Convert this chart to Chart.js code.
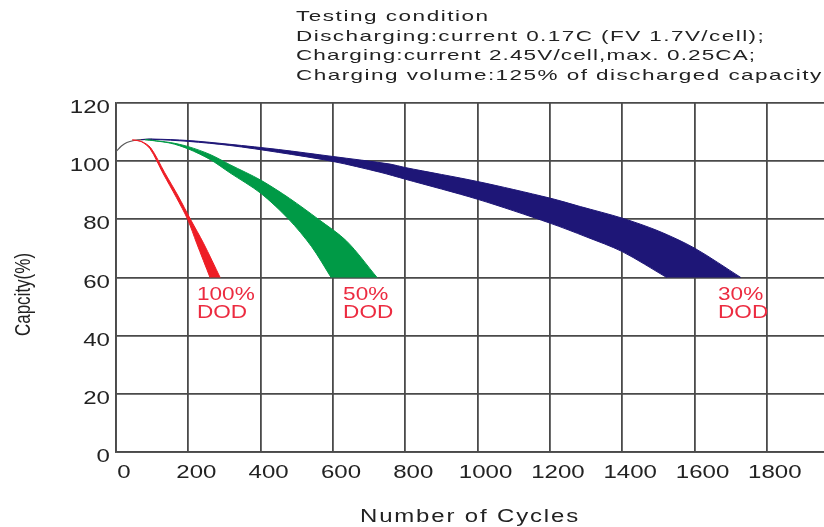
<!DOCTYPE html>
<html>
<head>
<meta charset="utf-8">
<script src="https://cdn.jsdelivr.net/npm/chart.js@4.4.1/dist/chart.umd.min.js"></script>
<style>
  html, body { margin: 0; padding: 0; background: #ffffff; overflow: hidden; }
  #wrap { width: 824px; height: 527px; position: relative; }
</style>
</head>
<body>
<div id="wrap"><canvas id="c" width="824" height="527"></canvas></div>
<script>
// ---------------- DATA ----------------
const xTickValues = [0, 200, 400, 600, 800, 1000, 1200, 1400, 1600, 1800];
const yTickValues = [0, 20, 40, 60, 80, 100, 120];

const conditionLines = [
  'Testing condition',
  'Discharging:current 0.17C (FV 1.7V/cell);',
  'Charging:current 2.45V/cell,max. 0.25CA;',
  'Charging volume:125% of discharged capacity'
];
const xAxisTitle = 'Number of Cycles';
const yAxisTitle = 'Capcity(%)';
const dodLabels = [['100%', 'DOD'], ['50%', 'DOD'], ['30%', 'DOD']];

// initial (common) part of the curves
const initialCycles   = [0, 15, 30, 50, 70, 100];
const initialCapacity = [103.3, 105.2, 106.4, 107.1, 107.4, 107.5];

// 100% DOD band (left/lower edge and right/upper edge)
const dod100LowerCycles   = [45, 70, 94, 131, 167, 198, 223, 260];
const dod100LowerCapacity = [107.3, 106.7, 104.3, 95.6, 87.5, 80, 71.8, 60];
const dod100UpperCycles   = [45, 70, 96, 134, 172, 206, 242, 288];
const dod100UpperCapacity = [107.3, 106.8, 104.6, 96.2, 88, 80, 71.8, 60];

// 50% DOD band
const dod50LowerCycles   = [80, 150, 200, 260, 315, 400, 478, 541, 595];
const dod50LowerCapacity = [107.4, 106.2, 104.2, 100.6, 96, 89, 80, 70.6, 60];
const dod50UpperCycles   = [80, 150, 200, 260, 315, 400, 480, 560, 638, 722];
const dod50UpperCapacity = [107.4, 106.4, 105, 102.3, 98.8, 93.5, 87.2, 80, 72.5, 60];

// 30% DOD band
const dod30LowerCycles   = [70, 100, 200, 315, 450, 600, 730, 800, 1000, 1200, 1300, 1400, 1523];
const dod30LowerCapacity = [107.4, 107.5, 106.8, 105.4, 103, 99.9, 96.2, 93.8, 86.9, 78.7, 74, 68.9, 60];
const dod30UpperCycles   = [70, 100, 200, 315, 450, 600, 758, 800, 1000, 1200, 1284, 1400, 1500, 1600, 1728];
const dod30UpperCapacity = [107.4, 107.6, 107.1, 105.8, 104, 101.6, 99, 97.8, 93, 87.3, 84.4, 80.4, 76, 70.1, 60];

// label anchors (in data units)
const dodLabelCycles = [224, 628, 1665];
const dodLabelCapacity = [54.0, 47.7];

// ---------------- STYLE ----------------
const FONT = '"Liberation Sans", Arial, Helvetica, sans-serif';
const RED = '#ee1d25';
const GREEN = '#009a46';
const BLUE = '#1e1677';
const GREY = '#5a5a5a';
const LABEL_RED = '#ec2b40';
const GRID = '#4a4a4a';
const TEXT = '#222222';

const condStyle = { x: 296, y: [16.7, 36.7, 55.5, 75.5], widths: [192, 468, 459, 525], size: 15, stretch: 1.5 };

function pts(xs, ys) { return xs.map((x, i) => ({ x: x, y: ys[i] })); }

// outline of a band: right edge from its end back up to the start,
// then the left edge down to its end (the fill closes the flat bottom)
function bandOutline(lx, ly, ux, uy) {
  const out = [];
  for (let i = ux.length - 1; i >= 0; i--) out.push({ x: ux[i], y: uy[i] });
  for (let i = 1; i < lx.length; i++) out.push({ x: lx[i], y: ly[i] });
  return out;
}

function band(label, lx, ly, ux, uy, color) {
  return {
    label: label,
    data: bandOutline(lx, ly, ux, uy),
    borderColor: color,
    backgroundColor: color,
    borderWidth: 1,
    pointRadius: 0,
    pointHoverRadius: 0,
    tension: 0.3,
    fill: 'shape'
  };
}

function drawFitted(ctx, text, x, y, width, stretch) {
  ctx.save();
  ctx.letterSpacing = '0px';
  const w0 = ctx.measureText(text).width;
  const n = Math.max(1, text.length - 1);
  const ls = Math.max(0, (width / stretch - w0) / n);
  ctx.translate(x, y);
  ctx.scale(stretch, 1);
  ctx.letterSpacing = ls.toFixed(2) + 'px';
  ctx.fillText(text, 0, 0);
  ctx.restore();
}

// draw a scale's texts with a horizontal (sx) / vertical (sy) glyph stretch
function patchStretch(scale, method, sx, sy, spacing, dy) {
  const key = '__patched_' + method;
  if (scale[key]) return;
  const orig = scale[method];
  scale[method] = function () {
    const c = this.ctx;
    const prevLS = c.letterSpacing;
    c.letterSpacing = spacing || '0px';
    c.fillText = function (t, x, y, mw) {
      this.save();
      this.scale(sx, sy);
      CanvasRenderingContext2D.prototype.fillText.call(this, t, x / sx, y / sy);
      this.restore();
    };
    c.save();
    if (dy) c.translate(0, dy);
    const r = orig.apply(this, arguments);
    c.restore();
    delete c.fillText;
    c.letterSpacing = prevLS;
    return r;
  };
  scale[key] = true;
}

const textPlugin = {
  id: 'textPlugin',
  beforeDraw(chart) {
    patchStretch(chart.scales.x, 'drawLabels', 1.3, 1, '0px', 0);
    patchStretch(chart.scales.y, 'drawLabels', 1.3, 1, '0px', 0);
    patchStretch(chart.scales.x, 'drawTitle', 1.33, 1, '1.4px', 0);
    patchStretch(chart.scales.y, 'drawTitle', 1, 1.25, '0px', 17);
  },
  afterDraw(chart) {
    const ctx = chart.ctx;
    const xs = chart.scales.x, ys = chart.scales.y;
    ctx.save();
    ctx.textAlign = 'left';
    ctx.textBaseline = 'middle';
    ctx.fillStyle = TEXT;
    ctx.font = condStyle.size + 'px ' + FONT;
    conditionLines.forEach((t, i) => drawFitted(ctx, t, condStyle.x, condStyle.y[i], condStyle.widths[i], condStyle.stretch));

    ctx.fillStyle = LABEL_RED;
    ctx.font = '18.5px ' + FONT;
    dodLabels.forEach((lines, i) => {
      const px = xs.getPixelForValue(dodLabelCycles[i]);
      lines.forEach((t, j) => {
        const py = ys.getPixelForValue(dodLabelCapacity[j]);
        ctx.save();
        ctx.translate(px, py);
        ctx.scale(1.22, 1);
        ctx.fillText(t, 0, 0);
        ctx.restore();
      });
    });
    ctx.restore();
  }
};

const ctx = document.getElementById('c').getContext('2d');
new Chart(ctx, {
  type: 'line',
  data: {
    datasets: [
      band('100% DOD', dod100LowerCycles, dod100LowerCapacity, dod100UpperCycles, dod100UpperCapacity, RED),
      band('50% DOD', dod50LowerCycles, dod50LowerCapacity, dod50UpperCycles, dod50UpperCapacity, GREEN),
      band('30% DOD', dod30LowerCycles, dod30LowerCapacity, dod30UpperCycles, dod30UpperCapacity, BLUE),
      {
        label: 'initial',
        data: pts(initialCycles, initialCapacity),
        borderColor: GREY,
        borderWidth: 1.2,
        pointRadius: 0,
        fill: false,
        tension: 0.3
      }
    ]
  },
  options: {
    responsive: false,
    animation: false,
    devicePixelRatio: 1,
    layout: { padding: { left: 0, top: 103, right: 0, bottom: 0 } },
    plugins: {
      legend: { display: false },
      tooltip: { enabled: false },
      title: { display: false }
    },
    scales: {
      x: {
        type: 'linear',
        min: 0,
        max: 1958,
        afterBuildTicks(scale) {
          scale.ticks = xTickValues.map(v => ({ value: v }));
        },
        afterFit(scale) { scale.height = 75; },
        grid: { color: GRID, lineWidth: 1.8, drawTicks: false },
        border: { display: true, color: GRID, width: 1.8 },
        ticks: {
          color: TEXT,
          font: { family: FONT, size: 18.5 },
          padding: 10,
          labelOffset: 8,
          maxRotation: 0,
          autoSkip: false,
          callback: v => String(v)
        },
        title: {
          display: true,
          text: xAxisTitle,
          color: TEXT,
          font: { family: FONT, size: 18, lineHeight: 1 },
          padding: { top: 0, bottom: 1 }
        }
      },
      y: {
        type: 'linear',
        min: 0,
        max: 120,
        afterBuildTicks(scale) {
          scale.ticks = yTickValues.map(v => ({ value: v }));
        },
        afterFit(scale) { scale.width = 116; },
        grid: { color: GRID, lineWidth: 1.8, drawTicks: false },
        border: { display: true, color: GRID, width: 1.8 },
        ticks: {
          color: TEXT,
          font: { family: FONT, size: 18.5 },
          padding: 6,
          labelOffset: 5,
          autoSkip: false,
          callback: v => String(v)
        },
        title: {
          display: true,
          text: yAxisTitle,
          color: TEXT,
          font: { family: FONT, size: 17 },
          padding: { top: 14, bottom: 0 }
        }
      }
    }
  },
  plugins: [textPlugin]
});
</script>
</body>
</html>
